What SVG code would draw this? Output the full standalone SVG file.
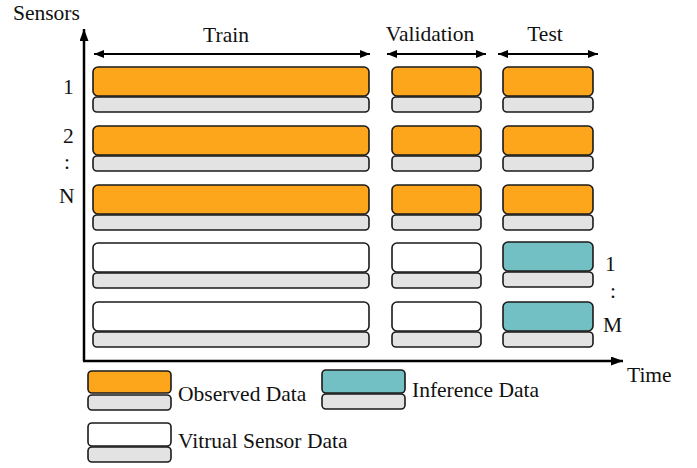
<svg xmlns="http://www.w3.org/2000/svg" width="697" height="468" viewBox="0 0 697 468">
<style>
.mid{text-anchor:middle}
.box{stroke:#1a1a1a;stroke-width:1.6}
.obs{fill:#FDA51B}
.inf{fill:#72BFC4}
.vir{fill:#FFFFFF}
.gry{fill:#E3E3E3}
.ax{stroke:#000;stroke-width:2.5;fill:none}
.dim{stroke:#000;stroke-width:2;fill:none}
</style>
<defs>
<marker id="ah" viewBox="0 0 10 8" refX="10" refY="4" markerWidth="10" markerHeight="8" markerUnits="userSpaceOnUse" orient="auto-start-reverse">
<path d="M0,0 L10,4 L0,8 Z" fill="#000"/>
</marker>
<marker id="ahb" viewBox="0 0 12 9" refX="12" refY="4.5" markerWidth="12" markerHeight="9" markerUnits="userSpaceOnUse" orient="auto">
<path d="M0,0 L12,4.5 L0,9 Z" fill="#000"/>
</marker>
</defs>
<g id="connectors">
<line class="ax" x1="84" y1="361" x2="84" y2="29" marker-end="url(#ahb)"/>
<line class="ax" x1="83" y1="361" x2="623" y2="361" marker-end="url(#ahb)"/>
<line class="dim" x1="94" y1="54" x2="370" y2="54" marker-start="url(#ah)" marker-end="url(#ah)"/>
<line class="dim" x1="387" y1="54" x2="486" y2="54" marker-start="url(#ah)" marker-end="url(#ah)"/>
<line class="dim" x1="498" y1="54" x2="598" y2="54" marker-start="url(#ah)" marker-end="url(#ah)"/>
</g>
<g font-family="Liberation Serif, Times New Roman, serif" font-size="21.5" fill="#111">
<g id="labels">
<text x="13" y="20">Sensors</text>
<text class="mid" x="226" y="42">Train</text>
<text class="mid" x="430" y="41">Validation</text>
<text class="mid" x="545" y="41">Test</text>
<text x="627" y="382">Time</text>
<text x="63" y="94">1</text>
<text x="63" y="143">2</text>
<text x="64" y="169">:</text>
<text x="59" y="203">N</text>
<text x="605" y="271">1</text>
<text x="610" y="298">:</text>
<text x="603" y="332">M</text>
</g>
<g id="row1">
<rect class="box obs" x="93" y="67" width="276" height="29" rx="5"/><rect class="box gry" x="93" y="97" width="276" height="15" rx="4"/>
<rect class="box obs" x="392" y="67" width="89" height="29" rx="5"/><rect class="box gry" x="392" y="97" width="89" height="15" rx="4"/>
<rect class="box obs" x="503" y="67" width="90" height="29" rx="5"/><rect class="box gry" x="503" y="97" width="90" height="15" rx="4"/>
</g>
<g id="row2">
<rect class="box obs" x="93" y="126" width="276" height="29" rx="5"/><rect class="box gry" x="93" y="156" width="276" height="15" rx="4"/>
<rect class="box obs" x="392" y="126" width="89" height="29" rx="5"/><rect class="box gry" x="392" y="156" width="89" height="15" rx="4"/>
<rect class="box obs" x="503" y="126" width="90" height="29" rx="5"/><rect class="box gry" x="503" y="156" width="90" height="15" rx="4"/>
</g>
<g id="row3">
<rect class="box obs" x="93" y="185" width="276" height="29" rx="5"/><rect class="box gry" x="93" y="215" width="276" height="15" rx="4"/>
<rect class="box obs" x="392" y="185" width="89" height="29" rx="5"/><rect class="box gry" x="392" y="215" width="89" height="15" rx="4"/>
<rect class="box obs" x="503" y="185" width="90" height="29" rx="5"/><rect class="box gry" x="503" y="215" width="90" height="15" rx="4"/>
</g>
<g id="row4">
<rect class="box vir" x="93" y="243" width="276" height="29" rx="5"/><rect class="box gry" x="93" y="273" width="276" height="15" rx="4"/>
<rect class="box vir" x="392" y="243" width="89" height="29" rx="5"/><rect class="box gry" x="392" y="273" width="89" height="15" rx="4"/>
<rect class="box inf" x="503" y="242" width="90" height="29" rx="5"/><rect class="box gry" x="503" y="272" width="90" height="15" rx="4"/>
</g>
<g id="row5">
<rect class="box vir" x="93" y="302" width="276" height="29" rx="5"/><rect class="box gry" x="93" y="332" width="276" height="15" rx="4"/>
<rect class="box vir" x="392" y="302" width="89" height="29" rx="5"/><rect class="box gry" x="392" y="332" width="89" height="15" rx="4"/>
<rect class="box inf" x="503" y="302" width="90" height="29" rx="5"/><rect class="box gry" x="503" y="332" width="90" height="15" rx="4"/>
</g>
<g id="legend-observed">
<rect class="box obs" x="88" y="371" width="83" height="22" rx="4"/><rect class="box gry" x="88" y="395" width="83" height="15" rx="4"/>
<text x="178" y="401">Observed Data</text>
</g>
<g id="legend-inference">
<rect class="box inf" x="322" y="370" width="83" height="23" rx="4"/><rect class="box gry" x="322" y="394" width="83" height="15" rx="4"/>
<text x="412" y="397">Inference Data</text>
</g>
<g id="legend-virtual">
<rect class="box vir" x="88" y="423" width="83" height="23" rx="4"/><rect class="box gry" x="88" y="447" width="83" height="15" rx="4"/>
<text x="178" y="448">Vitrual Sensor Data</text>
</g>
</g>
</svg>
